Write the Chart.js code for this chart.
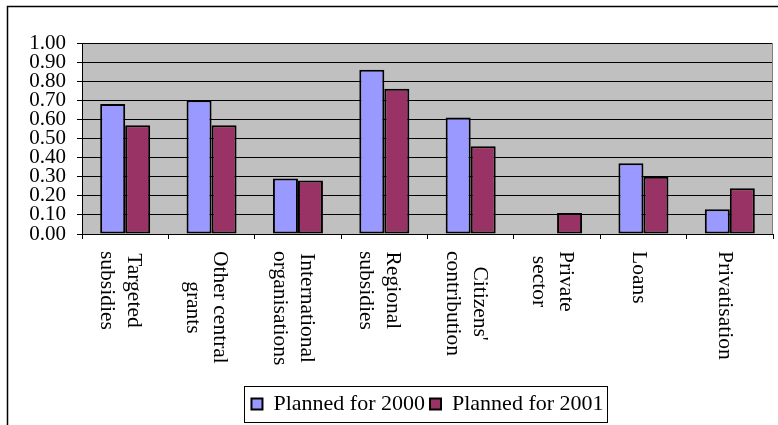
<!DOCTYPE html>
<html>
<head>
<meta charset="utf-8">
<script src="https://cdn.jsdelivr.net/npm/chart.js@4/dist/chart.umd.min.js"></script>
<style>
  body { margin: 0; background: #fff; }
  #wrap { width: 778px; height: 425px; }
</style>
</head>
<body>
<div id="wrap"><canvas id="chFunding" width="778" height="425"></canvas></div>
<script>
// category labels (each line of a wrapped label is one entry)
const categories = [
    ['Targeted', 'subsidies'],
    ['Other central', 'grants'],
    ['International', 'organisations'],
    ['Regional', 'subsidies'],
    ["Citizens'", 'contribution'],
    ['Private', 'sector'],
    ['Loans'],
    ['Privatisation']
];
const seriesNames = ['Planned for 2000', 'Planned for 2001'];
const planned2000 = [0.68, 0.70, 0.29, 0.86, 0.61, 0, 0.37, 0.13];
const planned2001 = [0.57, 0.57, 0.28, 0.76, 0.46, 0.11, 0.30, 0.24];
const yTicks = [0, 0.1, 0.2, 0.3, 0.4, 0.5, 0.6, 0.7, 0.8, 0.9, 1.0];

// colors are: lavender blue, plum
const barColors = ['#9999FF', '#993366'];
const serif = '"Liberation Serif", "Times New Roman", serif';

/* Background, frame, plot area, rotated category labels, legend frame */
const excelLook = {
    id: 'excelLook',
    beforeDraw(chart) {
        const ctx = chart.ctx;
        const area = chart.chartArea;
        ctx.save();
        ctx.fillStyle = '#fff';
        ctx.fillRect(0, 0, chart.width, chart.height);
        ctx.strokeStyle = '#000';
        ctx.lineWidth = 1.5;
        ctx.strokeRect(7.5, 6.5, chart.width + 20, chart.height + 20);
        ctx.fillStyle = '#C0C0C0';
        ctx.fillRect(area.left, area.top, area.right - area.left, area.bottom - area.top);
        ctx.restore();
    },
    beforeDatasetsDraw(chart) {
        const ctx = chart.ctx;
        const area = chart.chartArea;
        ctx.save();
        ctx.strokeStyle = '#808080';
        ctx.lineWidth = 1;
        ctx.beginPath();
        ctx.moveTo(area.right - 0.5, area.top);
        ctx.lineTo(area.right - 0.5, area.bottom);
        ctx.stroke();
        ctx.restore();
    },
    afterDraw(chart) {
        const ctx = chart.ctx;
        const xScale = chart.scales.x;
        const lineGap = 27;
        ctx.save();
        ctx.fillStyle = '#000';
        ctx.font = '21.5px ' + serif;
        ctx.textAlign = 'center';
        ctx.textBaseline = 'middle';
        categories.forEach((lines, i) => {
            const x = xScale.getPixelForValue(i) - 5;
            const y = chart.chartArea.bottom + 17;
            const maxW = Math.max(...lines.map(l => ctx.measureText(l).width));
            ctx.save();
            ctx.translate(x, y);
            ctx.rotate(Math.PI / 2);
            lines.forEach((line, j) => {
                const ly = -((lines.length - 1) / 2 - j) * lineGap;
                ctx.fillText(line, maxW / 2, ly);
            });
            ctx.restore();
        });

        // box round the legend
        const boxes = chart.legend.legendHitBoxes;
        if (boxes && boxes.length) {
            const first = boxes[0];
            const last = boxes[boxes.length - 1];
            const left = first.left - 7;
            const right = last.left + last.width + 4;
            ctx.strokeStyle = '#000';
            ctx.lineWidth = 1;
            ctx.strokeRect(Math.round(left) + 0.5, Math.round(first.top - 7) + 0.5,
                Math.round(right - left), Math.round(first.height + 14));
        }
        ctx.restore();
    }
};

function createBarChart(chartName) {
    var chData = {
        labels: categories,
        datasets: [
            {
                label: seriesNames[0],
                data: planned2000,
                backgroundColor: barColors[0],
                borderColor: '#000',
                borderWidth: 2,
                borderSkipped: false
            },
            {
                label: seriesNames[1],
                data: planned2001,
                backgroundColor: barColors[1],
                borderColor: '#000',
                borderWidth: 2,
                borderSkipped: false
            }
        ]
    };

    var chOptions = {
        responsive: false,
        animation: false,
        devicePixelRatio: 1,
        datasets: {
            bar: { categoryPercentage: 0.579, barPercentage: 1.0 }
        },
        layout: { padding: { top: 43, left: 0, right: 5, bottom: 0 } },
        plugins: {
            tooltip: { enabled: false },
            legend: {
                position: 'bottom',
                fullSize: false,
                labels: {
                    color: '#000',
                    font: { family: serif, size: 22 },
                    boxWidth: 11,
                    boxHeight: 11,
                    padding: 5
                }
            }
        },
        scales: {
            x: {
                grid: {
                    offset: true,
                    drawOnChartArea: false,
                    drawTicks: true,
                    tickLength: 5,
                    color: '#000'
                },
                border: { color: '#000', width: 1 },
                ticks: { display: false },
                afterFit: function (scale) { scale.height = 154; }
            },
            y: {
                min: 0,
                max: 1,
                afterBuildTicks: function (scale) {
                    scale.ticks = yTicks.map(v => ({ value: v }));
                },
                grid: {
                    color: '#000',
                    lineWidth: 1,
                    drawTicks: true,
                    tickLength: 5
                },
                border: { color: '#000', width: 1 },
                ticks: {
                    autoSkip: false,
                    color: '#000',
                    padding: 11,
                    font: { family: serif, size: 21, lineHeight: 1 },
                    callback: function (v) { return Number(v).toFixed(2); }
                },
                afterFit: function (scale) { scale.width = 82; }
            }
        }
    };

    var chBar = document.getElementById(chartName);
    if (chBar) {
        new Chart(chBar, {
            type: 'bar',
            data: chData,
            options: chOptions,
            plugins: [excelLook]
        });
    }
}

createBarChart('chFunding');
</script>
</body>
</html>
